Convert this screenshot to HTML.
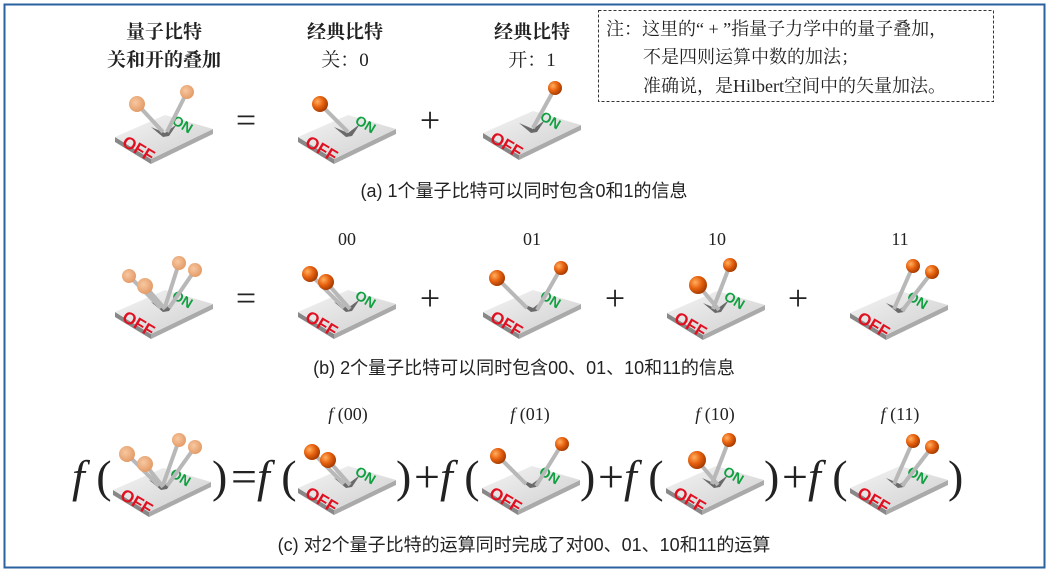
<!DOCTYPE html>
<html><head><meta charset="utf-8"><style>
html,body{margin:0;padding:0;background:#fff}
svg{display:block}
.cn{font-family:"Liberation Serif","Noto Serif CJK SC",serif}
.cs{font-family:"Liberation Sans","Noto Sans CJK SC",sans-serif}
.off{font-size:17px;fill:#e01020;font-weight:900}
.on{font-size:14px;fill:#10a040;font-weight:900}
.lv{stroke:#b8b8b8;stroke-width:4}
</style></head><body>
<svg width="1050" height="573" viewBox="0 0 1050 573" xmlns="http://www.w3.org/2000/svg">
<defs>
<linearGradient id="pl" x1="0" y1="0" x2="1" y2="1"><stop offset="0" stop-color="#f4f4f4"/><stop offset="1" stop-color="#cfcfcf"/></linearGradient>
<radialGradient id="bd" cx="0.35" cy="0.35" r="0.7"><stop offset="0" stop-color="#ffb060"/><stop offset="0.5" stop-color="#e8620f"/><stop offset="1" stop-color="#a03800"/></radialGradient>
<radialGradient id="bl" cx="0.4" cy="0.4" r="0.7"><stop offset="0" stop-color="#f8c8a0"/><stop offset="1" stop-color="#e09560"/></radialGradient>
<g id="plate">
<polygon points="0,0 36,22 36,27 0,5" fill="#888"/>
<polygon points="36,22 98,-8 98,-3 36,27" fill="#aaa"/>
<polygon points="0,0 36,22 98,-8 50,-22" fill="url(#pl)"/>
<polygon points="36,-10 50,-4 62,-13 54,-1 48,0" fill="#6a6a6a"/>
</g>
</defs>
<rect x="4.5" y="4.5" width="1040" height="563" fill="none" stroke="#2a62a0" stroke-width="2"/>
<rect x="598.5" y="10.5" width="395" height="91" fill="none" stroke="#333" stroke-width="1" stroke-dasharray="3,2"/>
<g class="cn" font-size="18" fill="#222">
<text x="606" y="35">注：这里的“ + ”指量子力学中的量子叠加，</text>
<text x="643" y="63">不是四则运算中数的加法；</text>
<text x="643" y="92">准确说，是Hilbert空间中的矢量加法。</text>
</g>
<g class="cn" font-size="19" font-weight="bold" fill="#222" text-anchor="middle">
<text x="164" y="38">量子比特</text><text x="164" y="66">关和开的叠加</text>
<text x="345" y="38">经典比特</text><text x="345" y="66" font-weight="normal">关：0</text>
<text x="532" y="38">经典比特</text><text x="532" y="66" font-weight="normal">开：1</text>
</g>
<g class="cn" font-size="36" fill="#222" text-anchor="middle">
<text x="246" y="132">=</text><text x="430" y="132">+</text>
<text x="246" y="310">=</text><text x="430" y="310">+</text><text x="615" y="310">+</text><text x="798" y="310">+</text>
</g>
<g class="cs" font-size="18" fill="#222" text-anchor="middle">
<text x="524" y="197">(a) 1个量子比特可以同时包含0和1的信息</text>
<text x="524" y="374">(b) 2个量子比特可以同时包含00、01、10和11的信息</text>
<text x="524" y="551">(c) 对2个量子比特的运算同时完成了对00、01、10和11的运算</text>
</g>
<g class="cn" font-size="18" fill="#222" text-anchor="middle">
<text x="347" y="245">00</text><text x="532" y="245">01</text><text x="717" y="245">10</text><text x="900" y="245">11</text>
<text x="348" y="420"><tspan font-style="italic">f</tspan> (00)</text><text x="530" y="420"><tspan font-style="italic">f</tspan> (01)</text>
<text x="715" y="420"><tspan font-style="italic">f</tspan> (10)</text><text x="900" y="420"><tspan font-style="italic">f</tspan> (11)</text>
</g>
<g class="cn" font-size="46" fill="#222">
<text x="72" y="492"><tspan font-style="italic">f</tspan> (</text>
<text x="212" y="492">)</text>
<text x="231" y="492">=<tspan font-style="italic">f</tspan> (</text>
<text x="396" y="492">)</text>
<text x="414" y="492">+<tspan font-style="italic">f</tspan> (</text>
<text x="580" y="492">)</text>
<text x="598" y="492">+<tspan font-style="italic">f</tspan> (</text>
<text x="764" y="492">)</text>
<text x="782" y="492">+<tspan font-style="italic">f</tspan> (</text>
<text x="948" y="492">)</text>
</g>

<g font-family="Liberation Sans,sans-serif">
<g transform="translate(115,137)"><use href="#plate"/>
<text class="off" transform="translate(6,8) rotate(31)">OFF</text><text class="on" transform="translate(56,-14) rotate(31)">ON</text>
<line class="lv" x1="48" y1="-5" x2="22" y2="-33"/><line class="lv" x1="52" y1="-5" x2="72" y2="-45"/>
<circle cx="22" cy="-33" r="8" fill="url(#bl)"/><circle cx="72" cy="-45" r="7" fill="url(#bl)"/></g>
<g transform="translate(298,137)"><use href="#plate"/>
<text class="off" transform="translate(6,8) rotate(31)">OFF</text><text class="on" transform="translate(56,-14) rotate(31)">ON</text>
<line class="lv" x1="50" y1="-5" x2="22" y2="-33"/>
<circle cx="22" cy="-33" r="8" fill="url(#bd)"/></g>
<g transform="translate(483,133)"><use href="#plate"/>
<text class="off" transform="translate(6,8) rotate(31)">OFF</text><text class="on" transform="translate(56,-14) rotate(31)">ON</text>
<line class="lv" x1="50" y1="-5" x2="72" y2="-45"/>
<circle cx="72" cy="-45" r="7" fill="url(#bd)"/></g>

<g transform="translate(115,312)"><use href="#plate"/>
<text class="off" transform="translate(6,8) rotate(31)">OFF</text><text class="on" transform="translate(56,-14) rotate(31)">ON</text>
<line class="lv" x1="46" y1="-4" x2="14" y2="-36"/><line class="lv" x1="50" y1="-3" x2="30" y2="-26"/>
<line class="lv" x1="50" y1="-5" x2="64" y2="-49"/><line class="lv" x1="54" y1="-4" x2="80" y2="-42"/>
<circle cx="14" cy="-36" r="7" fill="url(#bl)"/><circle cx="30" cy="-26" r="8" fill="url(#bl)"/><circle cx="64" cy="-49" r="7" fill="url(#bl)"/><circle cx="80" cy="-42" r="7" fill="url(#bl)"/></g>
<g transform="translate(298,312)"><use href="#plate"/>
<text class="off" transform="translate(6,8) rotate(31)">OFF</text><text class="on" transform="translate(56,-14) rotate(31)">ON</text>
<line class="lv" x1="46" y1="-4" x2="12" y2="-38"/><line class="lv" x1="52" y1="-3" x2="28" y2="-30"/>
<circle cx="12" cy="-38" r="8" fill="url(#bd)"/><circle cx="28" cy="-30" r="8" fill="url(#bd)"/></g>
<g transform="translate(483,312)"><use href="#plate"/>
<text class="off" transform="translate(6,8) rotate(31)">OFF</text><text class="on" transform="translate(56,-14) rotate(31)">ON</text>
<line class="lv" x1="44" y1="-4" x2="14" y2="-34"/><line class="lv" x1="54" y1="-2" x2="78" y2="-44"/>
<circle cx="14" cy="-34" r="8" fill="url(#bd)"/><circle cx="78" cy="-44" r="7" fill="url(#bd)"/></g>
<g transform="translate(667,313)"><use href="#plate"/>
<text class="off" transform="translate(6,8) rotate(31)">OFF</text><text class="on" transform="translate(56,-14) rotate(31)">ON</text>
<line class="lv" x1="46" y1="-4" x2="63" y2="-48"/><line class="lv" x1="52" y1="-3" x2="31" y2="-28"/>
<circle cx="63" cy="-48" r="7" fill="url(#bd)"/><circle cx="31" cy="-28" r="9" fill="url(#bd)"/></g>
<g transform="translate(850,313)"><use href="#plate"/>
<text class="off" transform="translate(6,8) rotate(31)">OFF</text><text class="on" transform="translate(56,-14) rotate(31)">ON</text>
<line class="lv" x1="44" y1="-4" x2="63" y2="-47"/><line class="lv" x1="52" y1="-2" x2="82" y2="-41"/>
<circle cx="63" cy="-47" r="7" fill="url(#bd)"/><circle cx="82" cy="-41" r="7" fill="url(#bd)"/></g>

<g transform="translate(113,490)"><use href="#plate"/>
<text class="off" transform="translate(6,8) rotate(31)">OFF</text><text class="on" transform="translate(56,-14) rotate(31)">ON</text>
<line class="lv" x1="46" y1="-4" x2="14" y2="-36"/><line class="lv" x1="50" y1="-3" x2="32" y2="-26"/>
<line class="lv" x1="50" y1="-5" x2="66" y2="-50"/><line class="lv" x1="54" y1="-4" x2="82" y2="-43"/>
<circle cx="14" cy="-36" r="8" fill="url(#bl)"/><circle cx="32" cy="-26" r="8" fill="url(#bl)"/><circle cx="66" cy="-50" r="7" fill="url(#bl)"/><circle cx="82" cy="-43" r="7" fill="url(#bl)"/></g>
<g transform="translate(298,488)"><use href="#plate"/>
<text class="off" transform="translate(6,8) rotate(31)">OFF</text><text class="on" transform="translate(56,-14) rotate(31)">ON</text>
<line class="lv" x1="46" y1="-4" x2="14" y2="-36"/><line class="lv" x1="52" y1="-3" x2="30" y2="-28"/>
<circle cx="14" cy="-36" r="8" fill="url(#bd)"/><circle cx="30" cy="-28" r="8" fill="url(#bd)"/></g>
<g transform="translate(482,488)"><use href="#plate"/>
<text class="off" transform="translate(6,8) rotate(31)">OFF</text><text class="on" transform="translate(56,-14) rotate(31)">ON</text>
<line class="lv" x1="44" y1="-4" x2="16" y2="-32"/><line class="lv" x1="54" y1="-2" x2="80" y2="-44"/>
<circle cx="16" cy="-32" r="8" fill="url(#bd)"/><circle cx="80" cy="-44" r="7" fill="url(#bd)"/></g>
<g transform="translate(666,488)"><use href="#plate"/>
<text class="off" transform="translate(6,8) rotate(31)">OFF</text><text class="on" transform="translate(56,-14) rotate(31)">ON</text>
<line class="lv" x1="46" y1="-4" x2="63" y2="-48"/><line class="lv" x1="52" y1="-3" x2="31" y2="-28"/>
<circle cx="63" cy="-48" r="7" fill="url(#bd)"/><circle cx="31" cy="-28" r="9" fill="url(#bd)"/></g>
<g transform="translate(850,488)"><use href="#plate"/>
<text class="off" transform="translate(6,8) rotate(31)">OFF</text><text class="on" transform="translate(56,-14) rotate(31)">ON</text>
<line class="lv" x1="44" y1="-4" x2="63" y2="-47"/><line class="lv" x1="52" y1="-2" x2="82" y2="-41"/>
<circle cx="63" cy="-47" r="7" fill="url(#bd)"/><circle cx="82" cy="-41" r="7" fill="url(#bd)"/></g>
</g>
</svg>
</body></html>
